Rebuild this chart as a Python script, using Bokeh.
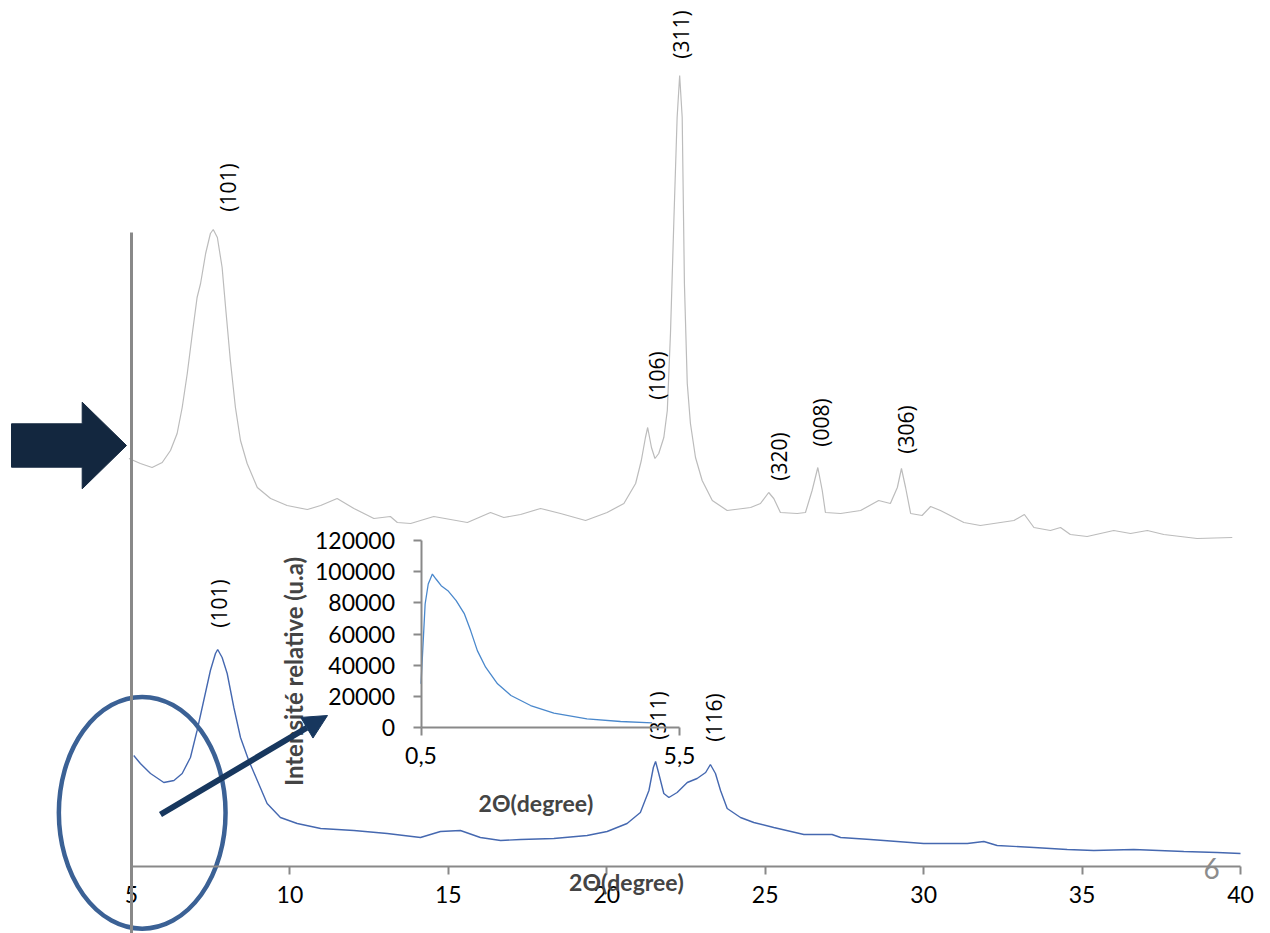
from math import pi

from bokeh.core.properties import value
from bokeh.embed import file_html
from bokeh.models import (Arrow, BasicTickFormatter, FixedTicker, Label, LinearAxis,
                          NormalHead, Range1d)
from bokeh.plotting import figure
from bokeh.resources import INLINE

# ---------------------------------------------------------------------------
# Data
# ---------------------------------------------------------------------------
# Upper (grey) diffractogram, offset upward: 2θ in degrees, relative intensity
tt_upper = [4.92, 5.28, 5.65, 5.97, 6.23, 6.44, 6.60, 6.76, 6.92, 7.07,
            7.18, 7.34, 7.49, 7.58, 7.71, 7.86, 7.97, 8.12, 8.28, 8.44,
            8.65, 8.97, 9.39, 9.91, 10.55, 10.97, 11.49, 12.02, 12.65, 13.17,
            13.39, 13.81, 14.54, 15.60, 16.33, 16.75, 17.28, 17.91, 18.54, 19.33,
            20.01, 20.54, 20.91, 21.09, 21.22, 21.29, 21.41, 21.52, 21.64, 21.80,
            21.91, 22.01, 22.12, 22.22, 22.30, 22.38, 22.45, 22.54, 22.64, 22.80,
            23.01, 23.33, 23.80, 24.54, 24.85, 25.11, 25.27, 25.48, 26.01, 26.27,
            26.48, 26.66, 26.80, 26.90, 27.38, 28.01, 28.58, 28.95, 29.17, 29.30,
            29.43, 29.59, 29.95, 30.22, 30.53, 31.27, 31.79, 32.85, 33.18, 33.48,
            34.00, 34.32, 34.63, 35.16, 36.00, 36.53, 37.06, 37.58, 38.63, 39.74]
i_upper = [408, 403, 399, 404, 416, 433, 459, 493, 533, 569,
           583, 613, 633, 637, 629, 599, 559, 506, 459, 426,
           403, 379, 368, 361, 357, 361, 368, 358, 348, 350,
           344, 343, 350, 344, 354, 349, 352, 358, 353, 346,
           354, 363, 383, 406, 429, 439, 419, 408, 413, 429,
           456, 533, 649, 749, 791, 749, 583, 483, 443, 409,
           386, 366, 356, 359, 363, 374, 368, 354, 353, 354,
           376, 399, 376, 354, 353, 356, 366, 363, 379, 398,
           379, 353, 351, 360, 356, 344, 341, 346, 352, 339,
           336, 339, 332, 330, 336, 333, 336, 332, 328, 329]

# Lower (blue) diffractogram
tt_lower = [5.07, 5.28, 5.60, 6.02, 6.34, 6.60, 6.86, 7.07, 7.28, 7.49,
            7.65, 7.72, 7.86, 8.02, 8.23, 8.44, 8.70, 8.97, 9.28, 9.70,
            10.23, 10.97, 12.02, 13.07, 14.12, 14.75, 15.38, 16.01, 16.65, 17.28,
            18.33, 19.38, 20.01, 20.64, 21.06, 21.33, 21.47, 21.54, 21.64, 21.80,
            21.96, 22.22, 22.54, 22.85, 23.12, 23.27, 23.43, 23.59, 23.80, 24.22,
            24.64, 25.27, 26.22, 27.11, 27.38, 28.32, 30.00, 31.38, 31.90, 32.32,
            33.48, 34.53, 35.37, 36.63, 38.21, 39.26, 40.00]
i_lower = [111, 103, 93, 84, 86, 93, 109, 136, 166, 196,
           213, 217, 209, 193, 159, 129, 106, 86, 63, 49,
           43, 38, 36, 33, 29, 35, 36, 29, 26, 27,
           28, 31, 35, 43, 54, 76, 99, 105, 93, 73,
           69, 74, 84, 88, 94, 102, 93, 76, 58, 49,
           44, 39, 32, 32, 29, 27, 23, 23, 25, 21,
           19, 17, 16, 17, 15, 14, 13]

# Small-angle scan (inset)
tt_small = [0.50, 0.58, 0.64, 0.72, 0.79, 0.89, 1.02, 1.18, 1.34, 1.46,
            1.59, 1.75, 1.98, 2.24, 2.62, 3.07, 3.71, 4.36, 4.97]
i_small = [27900, 79300, 92200, 98600, 95400, 91100, 87900, 81500, 72900, 62200,
           49300, 38600, 27900, 20400, 13950, 9000, 5400, 3660, 2830]

# Reflection labels: text, 2θ of label, height of label centre
hkl_upper = ["(101)", "(106)", "(311)", "(320)", "(008)", "(306)"]
hkl_upper_tt = [8.06, 21.60, 22.33, 25.42, 26.75, 29.43]
hkl_upper_y = [679, 491, 832, 410, 444, 437]

hkl_lower = ["(101)", "(311)", "(116)"]
hkl_lower_tt = [7.75, 21.63, 23.37]
hkl_lower_y = [263, 151, 149]

main_ticks = [5, 10, 15, 20, 25, 30, 35, 40]
inset_y_ticks = [0, 20000, 40000, 60000, 80000, 100000, 120000]
inset_x_ticks = [0.5, 5.5]
inset_x_labels = {0.5: "0,5", 5.5: "5,5"}

# ---------------------------------------------------------------------------
# Geometry of the canvas
# ---------------------------------------------------------------------------
W, H = 1270, 933
X_PX = 31.6857                 # pixels per degree on the main axis
X_LO = 5 - 131 / X_PX          # main x range start (left edge of canvas)
X_HI = X_LO + W / X_PX
Y_LO, Y_HI = -67, 866          # main intensity range (axis at 0)

IX_PX = 51.7                   # inset: pixels per degree
IX_LO = 0.5 - 420.5 / IX_PX
IX_HI = IX_LO + W / IX_PX
IY_PER_PX = 643.78             # inset: counts per pixel
IY_LO = -(H - 726.7) * IY_PER_PX
IY_HI = 120000 + 540.3 * IY_PER_PX


def cx(px):
    """Canvas pixel column -> main 2θ coordinate (for slide callouts)."""
    return X_LO + px / X_PX


def cy(py):
    """Canvas pixel row -> main intensity coordinate (for slide callouts)."""
    return Y_HI - py


GREY_AXIS = "#898989"
GREY_TRACE = "#bcbcbc"
BLUE_TRACE = "#4568b0"
BLUE_INSET = "#4a88cc"
NAVY = "#13273f"
NAVY_ARROW = "#17375e"
ELLIPSE = "#3b6195"
FONT = "Lato"
HKL_FONT = "Open Sans"
TICK_SIZE = "23px"

p = figure(width=W, height=H, x_range=Range1d(X_LO, X_HI), y_range=Range1d(Y_LO, Y_HI),
           x_axis_type=None, y_axis_type=None, output_backend="svg",
           toolbar_location=None, min_border=0)
p.outline_line_color = None
p.background_fill_color = "white"
p.border_fill_color = "white"
p.extra_x_ranges = {"ix": Range1d(IX_LO, IX_HI)}
p.extra_y_ranges = {"iy": Range1d(IY_LO, IY_HI)}

# Main 2θ axis
xaxis = LinearAxis(fixed_location=0, bounds=(5, 40), ticker=FixedTicker(ticks=main_ticks),
                   axis_line_color=GREY_AXIS, axis_line_width=2,
                   major_tick_line_color=GREY_AXIS, major_tick_line_width=2,
                   major_tick_in=0, major_tick_out=8, minor_tick_line_color=None,
                   major_label_text_font=FONT, major_label_text_font_size=TICK_SIZE,
                   major_label_text_color="black", major_label_standoff=11)
p.add_layout(xaxis, "below")

# Vertical axis rule at 2θ = 5 (no ticks)
yrule = LinearAxis(fixed_location=5, bounds=(Y_LO, 634), ticker=FixedTicker(ticks=[]),
                   axis_line_color=GREY_AXIS, axis_line_width=3,
                   major_tick_line_color=None, minor_tick_line_color=None,
                   major_label_text_font_size="0px")
p.add_layout(yrule, "left")

# Inset axes
inset_y = LinearAxis(x_range_name="ix", y_range_name="iy", fixed_location=0.5,
                     bounds=(0, 120000), ticker=FixedTicker(ticks=inset_y_ticks),
                     formatter=BasicTickFormatter(use_scientific=False),
                     axis_line_color=GREY_AXIS, axis_line_width=2,
                     major_tick_line_color=GREY_AXIS, major_tick_line_width=2,
                     major_tick_in=0, major_tick_out=8, minor_tick_line_color=None,
                     major_label_text_font=FONT, major_label_text_font_size=TICK_SIZE,
                     major_label_text_color="black", major_label_standoff=18)
p.add_layout(inset_y, "left")

inset_x = LinearAxis(x_range_name="ix", y_range_name="iy", fixed_location=0,
                     bounds=(0.5, 5.5), ticker=FixedTicker(ticks=inset_x_ticks),
                     major_label_overrides=inset_x_labels,
                     axis_line_color=GREY_AXIS, axis_line_width=2,
                     major_tick_line_color=GREY_AXIS, major_tick_line_width=2,
                     major_tick_in=0, major_tick_out=8, minor_tick_line_color=None,
                     major_label_text_font=FONT, major_label_text_font_size=TICK_SIZE,
                     major_label_text_color="black", major_label_standoff=12)
p.add_layout(inset_x, "below")

# Traces
p.line(tt_upper, i_upper, line_color=GREY_TRACE, line_width=1.2)
p.line(tt_lower, i_lower, line_color=BLUE_TRACE, line_width=1.4)
p.line(tt_small, i_small, line_color=BLUE_INSET, line_width=1.3,
       x_range_name="ix", y_range_name="iy")

# Reflection labels
p.text(x=hkl_upper_tt, y=hkl_upper_y, text=hkl_upper, angle=pi / 2,
       text_align="center", text_baseline="middle", text_color="black",
       text_font=value(HKL_FONT), text_font_size="21px")
p.text(x=hkl_lower_tt, y=hkl_lower_y, text=hkl_lower, angle=pi / 2,
       text_align="center", text_baseline="middle", text_color="black",
       text_font=value(HKL_FONT), text_font_size="21px")

# Axis titles
p.add_layout(Label(x=cx(626), y=cy(881), text="2Θ(degree)", text_font=FONT,
                   text_font_style="bold", text_font_size="23px",
                   text_align="center", text_baseline="middle"))
p.add_layout(Label(x=cx(535.5), y=cy(802), text="2Θ(degree)", text_font=FONT,
                   text_font_style="bold", text_font_size="23px",
                   text_align="center", text_baseline="middle"))
p.add_layout(Label(x=cx(292.5), y=cy(671), text="Intensité relative (u.a)", text_font=FONT,
                   text_font_style="bold", text_font_size="24px", angle=pi / 2,
                   text_align="center", text_baseline="middle"))

# Slide callouts: block arrow, circled low-angle region and pointer to the inset
block_px = [(11, 423.3), (81.7, 423.3), (81.7, 401.7), (126, 445),
            (81.7, 488.3), (81.7, 466.7), (11, 466.7)]
p.patch([cx(a) for a, _ in block_px], [cy(b) for _, b in block_px],
        fill_color=NAVY, line_color=NAVY, line_width=1)

p.ellipse(x=[cx(141.7)], y=[cy(812.3)], width=[166.7 / X_PX], height=[231.7],
          fill_color=None, line_color=ELLIPSE, line_width=4.5)

p.add_layout(Arrow(end=NormalHead(size=24, fill_color=NAVY_ARROW, line_color=NAVY_ARROW),
                   x_start=cx(160), y_start=cy(814), x_end=cx(327), y_end=cy(715),
                   line_color=NAVY_ARROW, line_width=6))

# Slide number
p.add_layout(Label(x=cx(1211), y=cy(868), text="6", text_font=FONT,
                   text_font_size="28px", text_color="#8c8c8c",
                   text_align="center", text_baseline="middle"))

open("out.html", "w").write(file_html(p, INLINE))
